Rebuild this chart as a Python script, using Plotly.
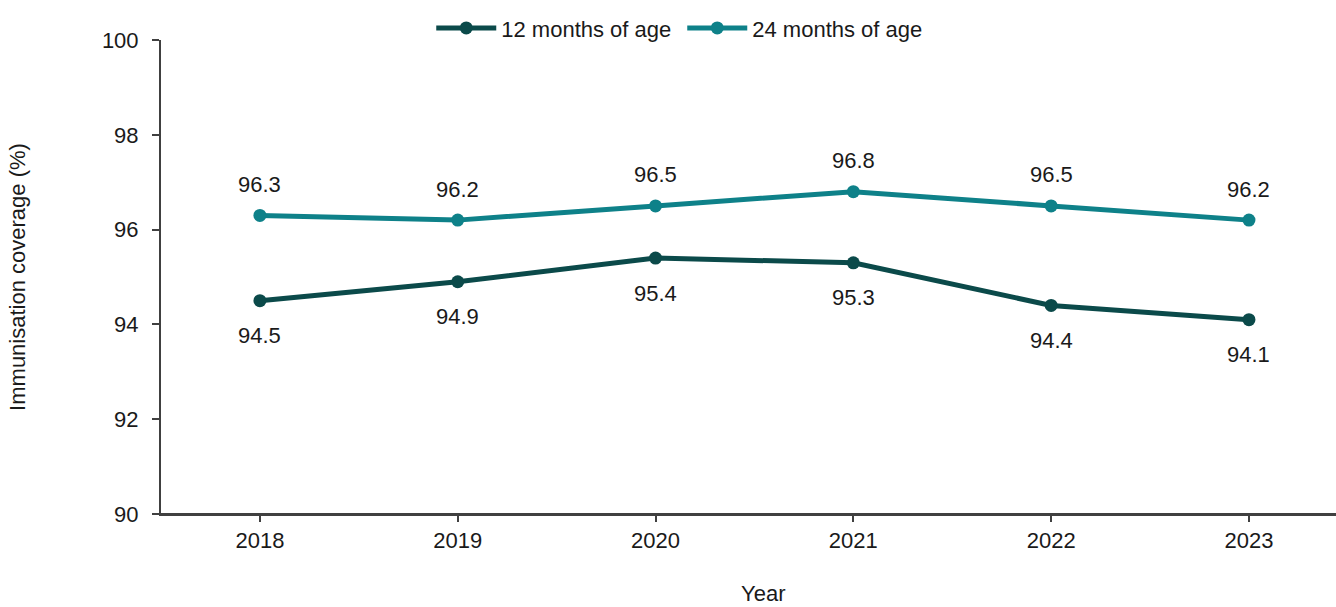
import plotly.graph_objects as go

years = [2018, 2019, 2020, 2021, 2022, 2023]
coverage_12m = [94.5, 94.9, 95.4, 95.3, 94.4, 94.1]
coverage_24m = [96.3, 96.2, 96.5, 96.8, 96.5, 96.2]
y_ticks = [90, 92, 94, 96, 98, 100]

dark_teal = "#0b4a4a"
teal = "#0e8189"
axis_col = "#404040"
text_col = "#1a1a1a"
font_family = "Liberation Sans, Arial, sans-serif"
fsize = 22

fig = go.Figure()
fig.add_trace(go.Scatter(
    x=years, y=coverage_12m, name="12 months of age",
    mode="lines+markers",
    line=dict(color=dark_teal, width=5),
    marker=dict(color=dark_teal, size=13),
))
fig.add_trace(go.Scatter(
    x=years, y=coverage_24m, name="24 months of age",
    mode="lines+markers",
    line=dict(color=teal, width=5),
    marker=dict(color=teal, size=13),
))

# value labels: 12 months below the points, 24 months above
for yr, v in zip(years, coverage_12m):
    fig.add_annotation(x=yr, y=v, text=f"{v:.1f}", showarrow=False,
                       yshift=-35, font=dict(size=fsize, color=text_col))
for yr, v in zip(years, coverage_24m):
    fig.add_annotation(x=yr, y=v, text=f"{v:.1f}", showarrow=False,
                       yshift=31, font=dict(size=fsize, color=text_col))

# x-axis title
fig.add_annotation(x=0.512, y=-0.168, xref="paper", yref="paper",
                   text="Year", showarrow=False, yanchor="middle",
                   font=dict(size=fsize, color=text_col))

# x-axis baseline crossing slightly past the y-axis
fig.add_shape(type="line", xref="paper", yref="paper",
              x0=-0.006, x1=1, y0=0, y1=0,
              line=dict(color=axis_col, width=2))

fig.update_layout(
    width=1336, height=607,
    margin=dict(l=161, r=0, t=40, b=93, autoexpand=False),
    plot_bgcolor="white", paper_bgcolor="white",
    font=dict(family=font_family, size=fsize, color=text_col),
    showlegend=True,
    legend=dict(
        orientation="h", x=0.23, xanchor="left", xref="paper",
        y=1.025, yanchor="middle", yref="paper",
        itemwidth=60, entrywidth=176, font=dict(size=fsize),
        bgcolor="rgba(0,0,0,0)",
    ),
    xaxis=dict(
        range=[2017.5, 2023.44], tickvals=years, ticktext=[str(y) for y in years],
        showline=True, linecolor=axis_col, linewidth=2,
        ticks="outside", ticklen=6, tickwidth=2, tickcolor=axis_col,
        showgrid=False, zeroline=False,
    ),
    yaxis=dict(
        range=[90, 100], tickvals=y_ticks,
        showline=True, linecolor=axis_col, linewidth=2,
        ticks="outside", ticklen=7, tickwidth=2, tickcolor=axis_col,
        ticklabelstandoff=9,
        showgrid=False, zeroline=False,
        title=dict(text="Immunisation coverage (%)", standoff=70, font=dict(size=fsize)),
    ),
)

fig.write_html("out.html")
